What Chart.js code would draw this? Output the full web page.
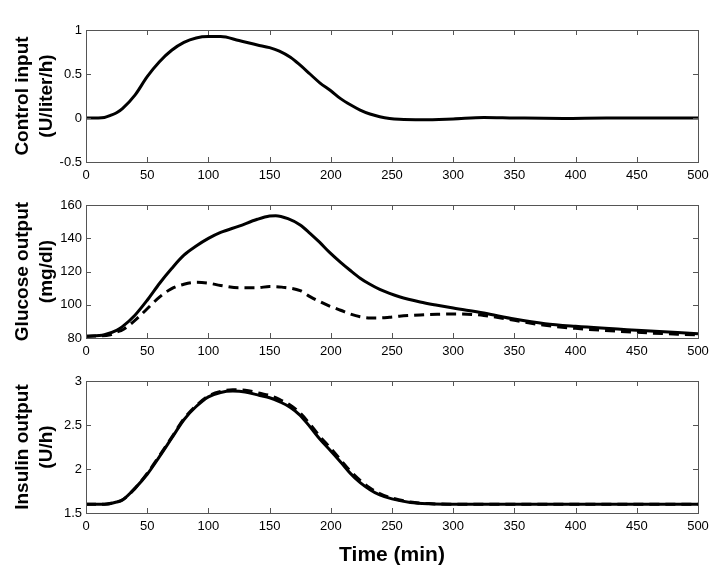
<!DOCTYPE html>
<html>
<head>
<meta charset="utf-8">
<script src="https://cdn.jsdelivr.net/npm/chart.js@4.4.1/dist/chart.umd.min.js"></script>
<style>
	body { margin: 0; background: #fff; }
	#wrap { position: relative; width: 724px; height: 582px; }
	canvas { position: absolute; left: 0; }
</style>
</head>
<body>
<div id="wrap">
	<canvas id="c1" width="724" height="190" style="top:0px"></canvas>
	<canvas id="c2" width="724" height="175" style="top:190px"></canvas>
	<canvas id="c3" width="724" height="217" style="top:365px"></canvas>
</div>
<script>
// time axis ticks shared by all panels
const xTicks = [0, 50, 100, 150, 200, 250, 300, 350, 400, 450, 500]

// control input (U/liter/h)
const timeCtrl = [0, 10, 15, 20, 25, 30, 40, 50, 60, 70, 80, 90, 100, 110, 125, 140, 150, 158, 167, 175, 183, 191, 200, 208, 216, 224, 232, 240, 248, 256, 275, 300, 325, 350, 390, 425, 460, 500]
const controlInput = [0, 0, 0.005, 0.03, 0.06, 0.11, 0.26, 0.47, 0.64, 0.77, 0.86, 0.91, 0.925, 0.925, 0.88, 0.83, 0.8, 0.76, 0.69, 0.6, 0.5, 0.4, 0.31, 0.22, 0.15, 0.09, 0.045, 0.015, -0.005, -0.015, -0.02, -0.01, 0.005, 0, -0.005, 0, 0, 0]
const ctrlTicks = [-0.5, 0, 0.5, 1]

// glucose output (mg/dl)
const timeGluSolid = [0, 15, 25, 30, 40, 50, 60, 70, 80, 90, 100, 110, 125, 140, 150, 155, 165, 175, 183, 191, 199, 208, 216, 224, 232, 240, 248, 256, 273, 287, 300, 325, 350, 375, 400, 450, 500]
const glucoseSolid = [81, 82, 84.6, 87, 93.7, 102.7, 112.8, 121.8, 129.8, 135.3, 139.9, 143.5, 147.3, 151.4, 153.4, 153.6, 151.8, 148, 143, 137.5, 131.5, 125.5, 120.6, 116, 112.3, 109.2, 106.8, 104.8, 101.7, 99.7, 98, 95, 91.4, 88.6, 87, 84.6, 82.6]
const timeGluDashed = [0, 20, 25, 30, 40, 50, 60, 70, 80, 90, 100, 110, 125, 140, 150, 160, 175, 183, 191, 199, 208, 216, 224, 232, 240, 248, 256, 273, 287, 300, 325, 350, 375, 400, 450, 500]
const glucoseDashed = [81, 82, 83.5, 85, 90.6, 97.6, 104.6, 109.7, 112.3, 113.5, 113, 111.6, 110.2, 110.2, 111, 110.6, 108.5, 104.9, 101.9, 99.2, 96.7, 94.4, 92.8, 92.1, 92.1, 92.5, 93.1, 93.9, 94.3, 94.5, 93.6, 90.6, 87.6, 85.8, 83.4, 81.8]
const gluTicks = [80, 100, 120, 140, 160]

// insulin output (U/h)
const timeIns = [0, 15, 25, 30, 40, 50, 60, 70, 80, 90, 100, 110, 120, 130, 142, 150, 158, 167, 175, 183, 191, 200, 208, 216, 224, 232, 240, 250, 265, 280, 300, 350, 400, 450, 500]
const insulinSolid = [1.6, 1.6, 1.625, 1.65, 1.78, 1.94, 2.14, 2.35, 2.56, 2.71, 2.82, 2.87, 2.885, 2.875, 2.835, 2.81, 2.765, 2.7, 2.61, 2.48, 2.34, 2.205, 2.08, 1.95, 1.845, 1.765, 1.705, 1.66, 1.62, 1.605, 1.6, 1.6, 1.6, 1.6, 1.6]
const insulinDashed = [1.6, 1.6, 1.625, 1.65, 1.78, 1.95, 2.15, 2.36, 2.57, 2.72, 2.83, 2.88, 2.9, 2.895, 2.86, 2.835, 2.79, 2.725, 2.635, 2.51, 2.37, 2.235, 2.105, 1.975, 1.87, 1.785, 1.72, 1.67, 1.625, 1.607, 1.6, 1.6, 1.6, 1.6, 1.6]
const insTicks = [1.5, 2, 2.5, 3]

const FONT = '"Liberation Sans", Arial, Helvetica, sans-serif'

function pts(xs, ys) {
	return xs.map((x, i) => ({ x: x, y: ys[i] }))
}

// matlab-like box with inward ticks on all four sides
const frameTicks = {
	id: 'frameTicks',
	afterDatasetsDraw(chart) {
		const { ctx, chartArea: a, scales } = chart
		const len = 5
		ctx.save()
		ctx.strokeStyle = '#555'
		ctx.lineWidth = 1
		ctx.beginPath()
		scales.x.ticks.forEach((t) => {
			const px = Math.round(scales.x.getPixelForValue(t.value)) + 0.5
			ctx.moveTo(px, a.bottom)
			ctx.lineTo(px, a.bottom - len)
			ctx.moveTo(px, a.top)
			ctx.lineTo(px, a.top + len)
		})
		scales.y.ticks.forEach((t) => {
			const py = Math.round(scales.y.getPixelForValue(t.value)) + 0.5
			ctx.moveTo(a.left, py)
			ctx.lineTo(a.left + len, py)
			ctx.moveTo(a.right, py)
			ctx.lineTo(a.right - len, py)
		})
		ctx.stroke()
		ctx.strokeRect(Math.round(a.left) + 0.5, Math.round(a.top) + 0.5, Math.round(a.right - a.left), Math.round(a.bottom - a.top))
		ctx.restore()
	},
}

function makeChart(canvasId, datasets, yTicks, yTitle, padTop, xHeight, xTitle) {
	const ctx = document.getElementById(canvasId).getContext('2d')
	return new Chart(ctx, {
		type: 'line',
		data: { datasets: datasets },
		plugins: [frameTicks],
		options: {
			responsive: false,
			animation: false,
			devicePixelRatio: 1,
			layout: { padding: { top: padTop, right: 26, left: 0, bottom: 0 } },
			plugins: { legend: { display: false }, tooltip: { enabled: false } },
			elements: { point: { radius: 0 } },
			scales: {
				x: {
					type: 'linear',
					min: 0,
					max: 500,
					afterBuildTicks: (s) => { s.ticks = xTicks.map((v) => ({ value: v })) },
					afterFit: (s) => { s.height = xHeight },
					grid: { display: false, drawTicks: false },
					border: { display: false },
					ticks: { color: '#000', font: { family: FONT, size: 13 }, padding: 6, maxRotation: 0, callback: (v) => String(v) },
					title: xTitle
						? { display: true, text: xTitle, color: '#000', font: { family: FONT, size: 21, weight: 'bold' }, padding: { top: 0, bottom: 14 } }
						: { display: false },
				},
				y: {
					min: yTicks[0],
					max: yTicks[yTicks.length - 1],
					afterBuildTicks: (s) => { s.ticks = yTicks.map((v) => ({ value: v })) },
					afterFit: (s) => { s.width = 86 },
					grid: { display: false, drawTicks: false },
					border: { display: false },
					ticks: { color: '#000', font: { family: FONT, size: 13 }, padding: 4, callback: (v) => String(v) },
					title: {
						display: true,
						text: yTitle,
						color: '#000',
						font: { family: FONT, size: 19, weight: 'bold', lineHeight: 1.3 },
						padding: { top: 10, bottom: 0 },
					},
				},
			},
		},
	})
}

function solid(xs, ys) {
	return { data: pts(xs, ys), borderColor: '#000', borderWidth: 3, cubicInterpolationMode: 'monotone', fill: false }
}
function dashed(xs, ys) {
	return { data: pts(xs, ys), borderColor: '#000', borderWidth: 3, borderDash: [10, 6], cubicInterpolationMode: 'monotone', fill: false }
}

makeChart('c1', [solid(timeCtrl, controlInput)], ctrlTicks, ['Control input', '(U/liter/h)'], 30, 28)
makeChart('c2', [dashed(timeGluDashed, glucoseDashed), solid(timeGluSolid, glucoseSolid)], gluTicks, ['Glucose output', '(mg/dl)'], 15, 27)
makeChart('c3', [dashed(timeIns, insulinDashed), solid(timeIns, insulinSolid)], insTicks, ['Insulin output', '(U/h)'], 16, 69, 'Time (min)')
</script>
</body>
</html>
